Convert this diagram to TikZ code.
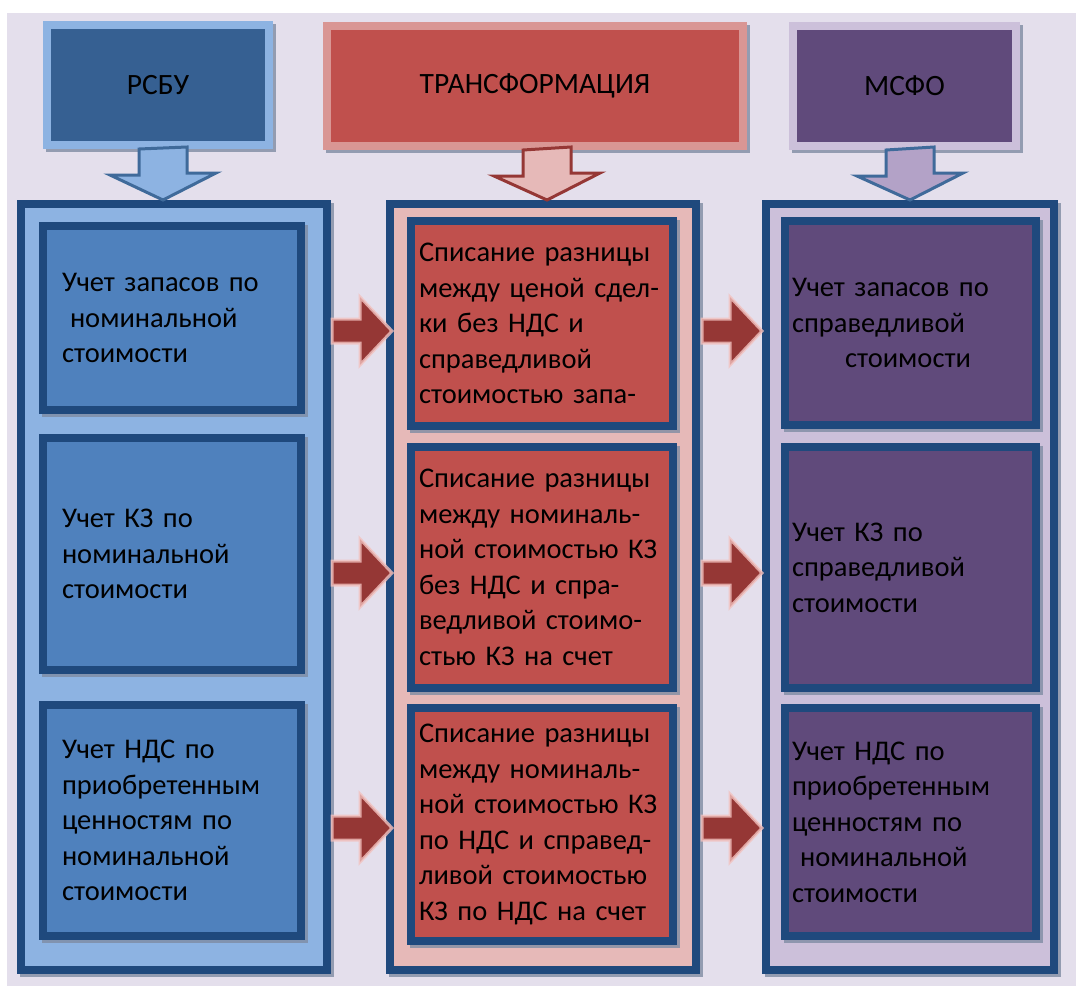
\documentclass[tikz,border=0pt]{standalone}
\usepackage{fontspec}
\setmainfont{Carlito}
\usetikzlibrary{calc}

\definecolor{bgcol}{HTML}{E4DFEC}
\definecolor{frameblue}{HTML}{1F497D}
\definecolor{rsbudark}{HTML}{366092}
\definecolor{rsbulight}{HTML}{8DB3E2}
\definecolor{rsbubox}{HTML}{4F81BD}
\definecolor{transdark}{HTML}{C0504D}
\definecolor{transborder}{HTML}{D99694}
\definecolor{translight}{HTML}{E6B9B8}
\definecolor{msfodark}{HTML}{604A7B}
\definecolor{msfolight}{HTML}{CCC0DA}
\definecolor{msfoarrow}{HTML}{B3A2C7}
\definecolor{arrowred}{HTML}{953735}
\definecolor{arrowglow}{HTML}{F2C1BE}
\definecolor{arrowblue}{HTML}{3F6A9A}
\definecolor{shadowgray}{HTML}{7F8CA3}

\begin{document}
\begin{tikzpicture}[x=1pt,y=-1pt,
  shadowed/.style={preaction={fill=shadowgray, draw=shadowgray, line width=8pt, opacity=0.8,
    transform canvas={shift={(3pt,-3pt)}}}},
  header/.style={shadowed, draw=#1, line width=8pt, minimum height=120pt, inner sep=0pt,
    font=\fontsize{29.5}{34}\selectfont},
  column/.style={shadowed, draw=frameblue, fill=#1, line width=8pt, minimum height=766pt, inner sep=0pt},
  box/.style={shadowed, draw=frameblue, fill=#1, line width=8pt, align=left, inner ysep=0pt,
    font=\fontsize{28.5}{35.5}\selectfont},
  lbox/.style={box=rsbubox, minimum width=258pt, inner xsep=19pt, text width=220pt},
  mbox/.style={box=transdark, minimum width=262pt, inner xsep=8pt, text width=246pt},
  rbox/.style={box=msfodark, minimum width=251pt, inner xsep=7pt, text width=237pt},
  dnarrow/.style={line width=3pt, line join=miter},
  rtarrow/.style={fill=arrowred, draw=arrowglow, draw opacity=0.8, line width=3pt, line join=miter}]

\useasboundingbox (0,0) rectangle (1076,986);
\fill[bgcol] (7,13) rectangle (1076,986);

% columns
\node[column=rsbulight, minimum width=306pt] (colL) at (174,587) {};
\node[column=translight, minimum width=306pt] (colM) at (543,587) {};
\node[column=msfolight, minimum width=288pt] (colR) at (910,587) {};

% headers
\node[header=rsbulight, fill=rsbudark, minimum width=222pt] (rsbu) at (158,85) {РСБУ};
\node[header=transborder, fill=transdark, minimum width=416pt] (trans) at (535,86) {ТРАНСФОРМАЦИЯ};
\node[header=msfolight, fill=msfodark, minimum width=223pt] (msfo) at (904.5,86) {МСФО};

% РСБУ
\node[lbox, minimum height=184pt] (l1) at (172,318) {Учет запасов по\\\hspace*{8pt}номинальной\\стоимости};
\node[lbox, minimum height=232pt] (l2) at (172,554) {Учет КЗ по\\номинальной\\стоимости};
\node[lbox, minimum height=231pt] (l3) at (172,820.5) {Учет НДС по\\приобретенным\\ценностям по\\номинальной\\стоимости};

% трансформация
\node[mbox, minimum height=205pt] (m1) at (542,323.5) {Списание разницы\\между ценой сдел-\\ки без НДС и\\справедливой\\стоимостью запа-};
\node[mbox, minimum height=241pt] (m2) at (542,567.5) {Списание разницы\\между номиналь-\\ной стоимостью КЗ\\без НДС и спра-\\ведливой стоимо-\\стью КЗ на счет};
\node[mbox, minimum height=233pt] (m3) at (542,824.5) {Списание разницы\\между номиналь-\\ной стоимостью КЗ\\по НДС и справед-\\ливой стоимостью\\КЗ по НДС на счет};

% МСФО
\node[rbox, minimum height=204pt] (r1) at (910.5,323) {Учет запасов по\\справедливой\\\hspace*{53pt}стоимости};
\node[rbox, minimum height=241pt] (r2) at (910.5,567.5) {Учет КЗ по\\справедливой\\стоимости};
\node[rbox, minimum height=228pt] (r3) at (910.5,822) {Учет НДС по\\приобретенным\\ценностям по\\\hspace*{8pt}номинальной\\стоимости};

% arrows
\coordinate (tipL) at (163,200);
\coordinate (tipM) at (547,200);
\coordinate (tipR) at (910,200);
\foreach \hd/\tip/\fc/\dc in {rsbu/tipL/rsbulight/arrowblue, trans/tipM/translight/arrowred, msfo/tipR/msfoarrow/arrowblue}
  \draw[dnarrow, fill=\fc, draw=\dc] (\tip |- \hd.south) ++(-24,0) -- ++(0,26) -- ++(-29,0) -- (\tip)
    -- ++(53,-27) -- ++(-29,0) -- ++(0,-26) -- cycle;

\coordinate (row1) at (0,331);
\coordinate (row2) at (0,573);
\coordinate (row3) at (0,828);
\foreach \rw in {row1,row2,row3} {
  \draw[rtarrow] ($(colL.east |- \rw)+(1,-12)$) -- ++(28,0) -- ++(0,-22) -- ++(32,34) -- ++(-32,34)
    -- ++(0,-22) -- ++(-28,0) -- cycle;
  \draw[rtarrow] ($(colM.east |- \rw)+(2,-12)$) -- ++(28,0) -- ++(0,-22) -- ++(32,34) -- ++(-32,34)
    -- ++(0,-22) -- ++(-28,0) -- cycle;
}
\end{tikzpicture}
\end{document}
